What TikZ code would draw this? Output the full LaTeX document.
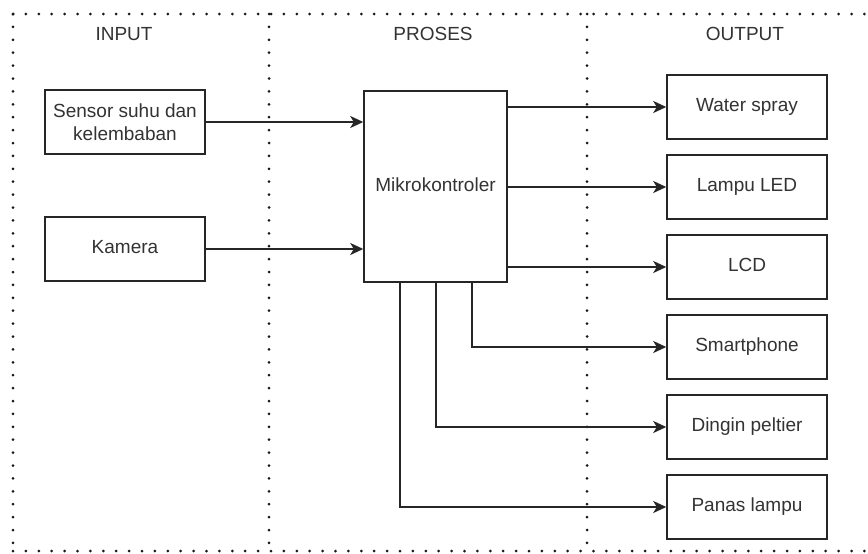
\documentclass[tikz,border=0pt]{standalone}
\usepackage{fontspec}
\setmainfont{Liberation Sans}
\usetikzlibrary{arrows.meta}
\begin{document}
\begin{tikzpicture}[x=1pt,y=-1pt,
  txt/.style={text=black!80,font=\fontsize{19}{23}\selectfont},
  blkbase/.style={txt,draw=black!85,line width=1.5pt,fill=white,minimum width=160pt,minimum height=64pt,inner sep=0pt},
  blk/.style={blkbase,text height=13.5pt,text depth=4pt},
  blktwo/.style={blkbase,align=center},
  conn/.style={draw=black!85,line width=1.5pt,-{Stealth[length=13pt,width=12pt,inset=3.5pt]}},
  dots/.style={line width=3pt,line cap=round,dash pattern=on 0pt off 12.9pt,black!90},
  head/.style={txt}]
\useasboundingbox (0,0) rectangle (868,554);
\fill[white] (0,0) rectangle (868,554);
% column frame
\begin{scope}
\clip (0,0) rectangle (868,554);
\draw[dots] (13,14) -- (880,14);
\draw[dots] (13,551) -- (880,551);
\draw[dots] (13,14) -- (13,551);
\draw[dots] (269,14) -- (269,551);
\draw[dots] (587,14) -- (587,551);
\end{scope}
% column headings
\node[head] (hin) at (124,34) {INPUT};
\node[head] (hpr) at (433,34) {PROSES};
\node[head] (hout) at (745,34) {OUTPUT};
% input blocks
\node[blktwo] (sensor) at (125,122) {Sensor suhu dan\\kelembaban};
\node[blk] (kamera) at (125,249) {Kamera};
% controller
\node[blk,minimum width=143pt,minimum height=191pt] (mcu) at (435.5,186.5) {Mikrokontroler};
% output blocks
\node[blk] (water) at (747,107) {Water spray};
\node[blk] (led) at (747,187) {Lampu LED};
\node[blk] (lcd) at (747,267) {LCD};
\node[blk] (hp) at (747,347) {Smartphone};
\node[blk] (dingin) at (747,427) {Dingin peltier};
\node[blk] (panas) at (747,507) {Panas lampu};
% taps on the controller's lower edge
\coordinate (t1) at ([xshift=36.5pt]mcu.south);
\coordinate (t2) at ([xshift=0.5pt]mcu.south);
\coordinate (t3) at ([xshift=-35.5pt]mcu.south);
% connectors
\draw[conn] (sensor.east) -- (sensor.east -| mcu.west);
\draw[conn] (kamera.east) -- (kamera.east -| mcu.west);
\draw[conn] (water.west -| mcu.east) -- (water.west);
\draw[conn] (led.west -| mcu.east) -- (led.west);
\draw[conn] (lcd.west -| mcu.east) -- (lcd.west);
\draw[conn] (t1) |- (hp.west);
\draw[conn] (t2) |- (dingin.west);
\draw[conn] (t3) |- (panas.west);
\end{tikzpicture}
\end{document}
